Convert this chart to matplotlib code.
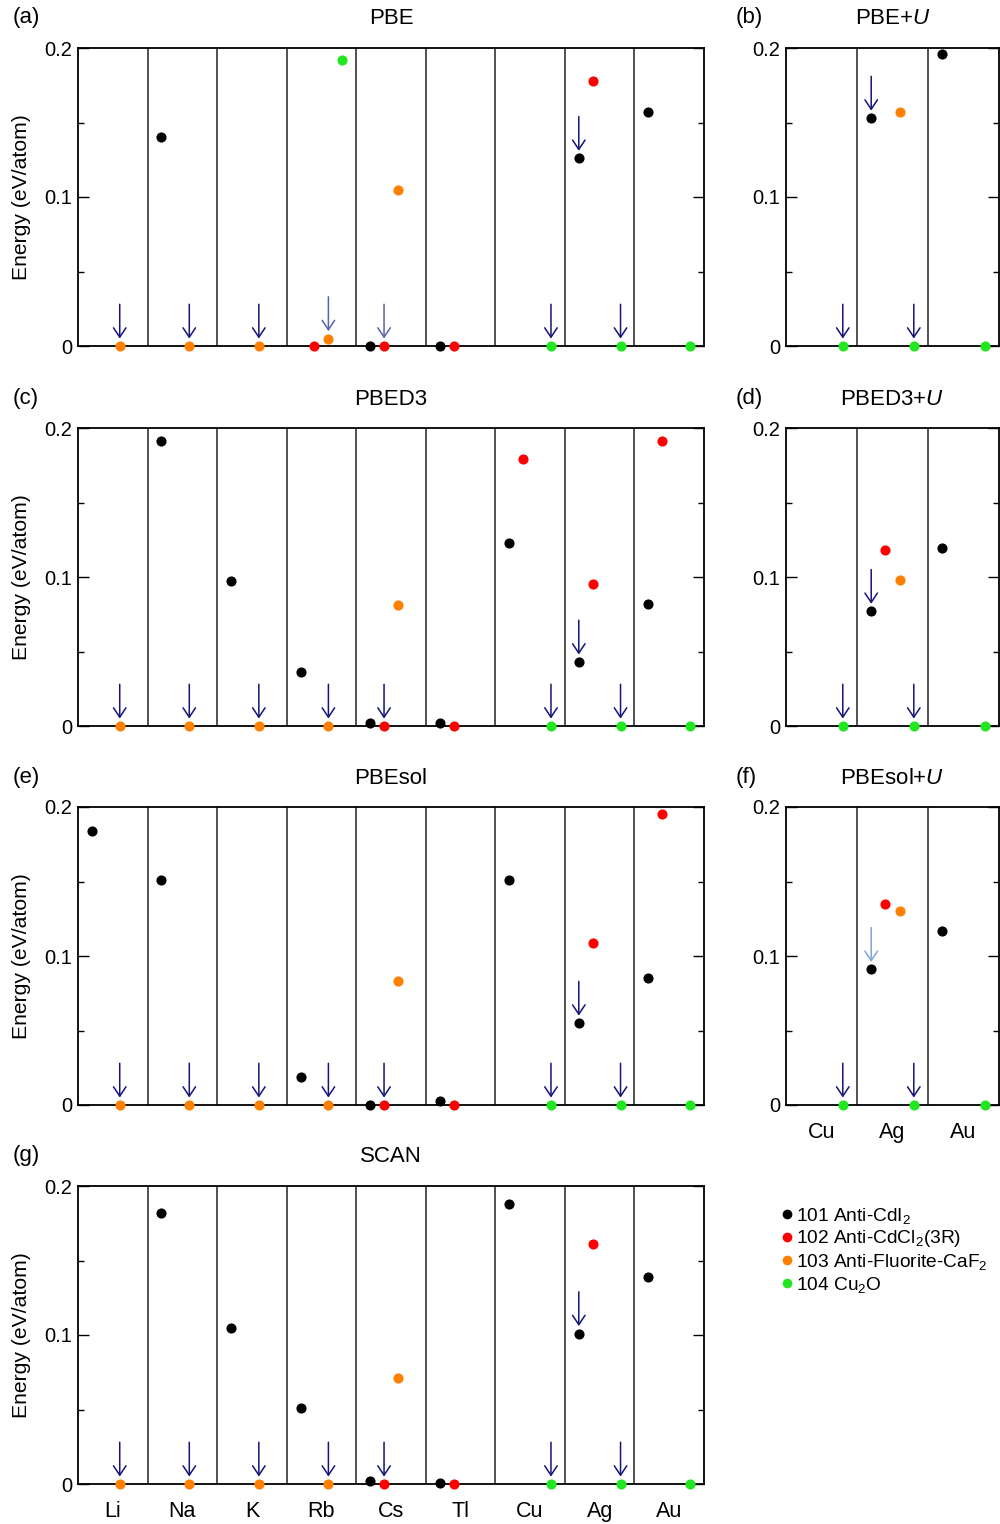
import numpy as np
import matplotlib
matplotlib.use("Agg")
import matplotlib.pyplot as plt
from matplotlib.lines import Line2D

plt.rcParams['font.family'] = ['Liberation Sans', 'DejaVu Sans']
plt.rcParams['mathtext.fontset'] = 'custom'
plt.rcParams['mathtext.rm'] = 'Liberation Sans'
plt.rcParams['mathtext.it'] = 'Liberation Sans:italic'

nan = np.nan

# elements
elems_full = ['Li', 'Na', 'K', 'Rb', 'Cs', 'Tl', 'Cu', 'Ag', 'Au']
elems_u = ['Cu', 'Ag', 'Au']

# structure labels and colours
struct_labels = ['101 Anti-CdI$_2$', '102 Anti-CdCl$_2$(3R)',
                 '103 Anti-Fluorite-CaF$_2$', '104 Cu$_2$O']
struct_colors = ['#000000', '#ff0000', '#ff8000', '#22e622']

# energies (eV/atom), one list per structure : 101, 102, 103, 104
pbe_101 = [nan, 0.140, nan, nan, 0.0, 0.0, nan, 0.126, 0.157]
pbe_102 = [nan, nan, nan, 0.0, 0.0, 0.0, nan, 0.178, nan]
pbe_103 = [0.0, 0.0, 0.0, 0.005, 0.105, nan, nan, nan, nan]
pbe_104 = [nan, nan, nan, 0.192, nan, nan, 0.0, 0.0, 0.0]

pbeu_101 = [nan, 0.153, 0.196]
pbeu_102 = [nan, nan, nan]
pbeu_103 = [nan, 0.157, nan]
pbeu_104 = [0.0, 0.0, 0.0]

pbed3_101 = [nan, 0.191, 0.097, 0.036, 0.002, 0.002, 0.123, 0.043, 0.082]
pbed3_102 = [nan, nan, nan, nan, 0.0, 0.0, 0.179, 0.095, 0.191]
pbed3_103 = [0.0, 0.0, 0.0, 0.0, 0.081, nan, nan, nan, nan]
pbed3_104 = [nan, nan, nan, nan, nan, nan, 0.0, 0.0, 0.0]

pbed3u_101 = [nan, 0.077, 0.1195]
pbed3u_102 = [nan, 0.118, nan]
pbed3u_103 = [nan, 0.098, nan]
pbed3u_104 = [0.0, 0.0, 0.0]

pbesol_101 = [0.184, 0.151, nan, 0.019, 0.0, 0.003, 0.151, 0.055, 0.085]
pbesol_102 = [nan, nan, nan, nan, 0.0, 0.0, nan, 0.109, 0.195]
pbesol_103 = [0.0, 0.0, 0.0, 0.0, 0.083, nan, nan, nan, nan]
pbesol_104 = [nan, nan, nan, nan, nan, nan, 0.0, 0.0, 0.0]

pbesolu_101 = [nan, 0.091, 0.117]
pbesolu_102 = [nan, 0.135, nan]
pbesolu_103 = [nan, 0.130, nan]
pbesolu_104 = [0.0, 0.0, 0.0]

scan_101 = [nan, 0.182, 0.105, 0.051, 0.002, 0.001, 0.188, 0.101, 0.139]
scan_102 = [nan, nan, nan, nan, 0.0, 0.0, nan, 0.161, nan]
scan_103 = [0.0, 0.0, 0.0, 0.0, 0.071, nan, nan, nan, nan]
scan_104 = [nan, nan, nan, nan, nan, nan, 0.0, 0.0, 0.0]

# arrows : (element index, structure index, colour)
navy = '#14147a'
arrows_full = [(0, 2, navy), (1, 2, navy), (2, 2, navy), (3, 2, navy), (4, 1, navy),
               (6, 3, navy), (7, 0, navy), (7, 3, navy)]
arrows_pbe = [(0, 2, navy), (1, 2, navy), (2, 2, navy), (3, 2, '#5a62a8'), (4, 1, '#5a62a8'),
              (6, 3, navy), (7, 0, navy), (7, 3, navy)]
arrows_u = [(0, 3, navy), (1, 0, navy), (1, 3, navy)]
arrows_pbesolu = [(0, 3, navy), (1, 0, '#7aa6d8'), (1, 3, navy)]

offsets = [-0.3, -0.1, 0.1, 0.3]

W, H = 1000, 1524
fig = plt.figure(figsize=(W / 100, H / 100), dpi=100)


def make_ax(x0, x1, ytop):
    return fig.add_axes([x0 / W, 1 - (ytop + 298) / H, (x1 - x0) / W, 298 / H])


def draw_panel(ax, elems, data, arrows, title, tag, tag_x, ylabel=True, xlabels=False):
    n = len(elems)
    ax.set_xlim(-0.5, n - 0.5)
    ax.set_ylim(0, 0.2)
    for i in range(n - 1):
        ax.axvline(i + 0.5, color='#333333', lw=1.2, zorder=1)
    for k, vals in enumerate(data):
        x = np.arange(n) + offsets[k]
        ax.plot(x, vals, 'o', color=struct_colors[k], ms=7.3, mec='none',
                clip_on=False, zorder=3)
    for (i, k, c) in arrows:
        x = i + offsets[k]
        y = data[k][i]
        ax.annotate('', xy=(x, y + 0.005), xytext=(x, y + 0.028),
                    arrowprops=dict(arrowstyle='->,head_length=0.45,head_width=0.3',
                                    color=c, lw=1.1, mutation_scale=15,
                                    shrinkA=0, shrinkB=0), zorder=4)
    ax.set_yticks([0, 0.1, 0.2])
    ax.set_yticklabels(['0', '0.1', '0.2'])
    ax.set_yticks([0.05, 0.15], minor=True)
    ax.tick_params(axis='y', which='both', direction='in', left=True, right=True,
                   labelsize=14.5, pad=4)
    ax.tick_params(axis='y', which='major', length=8, width=1)
    ax.tick_params(axis='y', which='minor', length=4, width=1)
    if xlabels:
        ax.set_xticks(range(n))
        ax.set_xticklabels(elems, fontsize=15.5)
        ax.tick_params(axis='x', length=0, pad=12)
    else:
        ax.set_xticks([])
    for s in ax.spines.values():
        s.set_linewidth(1.3)
    ax.text(0.5, 1 + 29 / 298, title, transform=ax.transAxes, ha='center',
            va='center', fontsize=16)
    pos = ax.get_position()
    fig.text(tag_x / W, pos.y1 + 30 / H, tag, ha='left', va='center', fontsize=16)
    if ylabel:
        fig.text(22 / W, (pos.y0 + pos.y1) / 2, 'Energy (eV/atom)', rotation=90,
                 ha='center', va='center', fontsize=15.2)


rows = [48, 428, 807, 1186]

ax_a = make_ax(78, 704, rows[0])
draw_panel(ax_a, elems_full, [pbe_101, pbe_102, pbe_103, pbe_104], arrows_pbe,
           'PBE', '(a)', 13)
ax_b = make_ax(786, 999, rows[0])
draw_panel(ax_b, elems_u, [pbeu_101, pbeu_102, pbeu_103, pbeu_104], arrows_u,
           'PBE+$U$', '(b)', 736, ylabel=False)

ax_c = make_ax(78, 704, rows[1])
draw_panel(ax_c, elems_full, [pbed3_101, pbed3_102, pbed3_103, pbed3_104], arrows_full,
           'PBED3', '(c)', 13)
ax_d = make_ax(786, 999, rows[1])
draw_panel(ax_d, elems_u, [pbed3u_101, pbed3u_102, pbed3u_103, pbed3u_104], arrows_u,
           'PBED3+$U$', '(d)', 736, ylabel=False)

ax_e = make_ax(78, 704, rows[2])
draw_panel(ax_e, elems_full, [pbesol_101, pbesol_102, pbesol_103, pbesol_104], arrows_full,
           'PBEsol', '(e)', 13)
ax_f = make_ax(786, 999, rows[2])
draw_panel(ax_f, elems_u, [pbesolu_101, pbesolu_102, pbesolu_103, pbesolu_104],
           arrows_pbesolu, 'PBEsol+$U$', '(f)', 736, ylabel=False, xlabels=True)

ax_g = make_ax(78, 704, rows[3])
draw_panel(ax_g, elems_full, [scan_101, scan_102, scan_103, scan_104], arrows_full,
           'SCAN', '(g)', 13, xlabels=True)

# legend
handles = [Line2D([], [], marker='o', ls='none', color=c, mec='none', ms=7)
           for c in struct_colors]
fig.legend(handles, struct_labels, loc='upper left',
           bbox_to_anchor=(772 / W, 1 - 1196 / H), frameon=False, fontsize=13.8,
           handlelength=0.6, handletextpad=0.15, labelspacing=0.14, borderpad=0)

fig.savefig('out.png', dpi=100)
